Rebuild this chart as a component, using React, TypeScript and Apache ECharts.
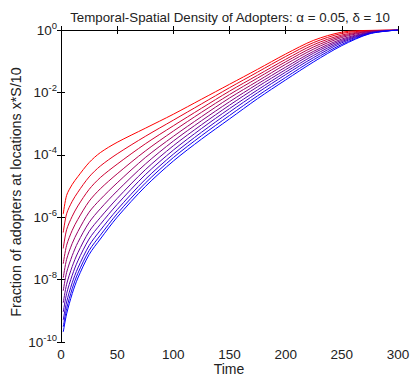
import React, { useEffect, useRef } from "react";
import * as echarts from "echarts";

// Time samples
const times = [2, 5, 10, 15, 25, 35, 50, 75, 100, 125, 150, 175, 200, 225, 250, 275, 300];

// log10 of fraction of adopters at locations x*S/10 (x = 0 .. 10)
const loc0 = [-5.9, -5.3, -4.95, -4.7, -4.25, -3.93, -3.6, -3.15, -2.7, -2.22, -1.74, -1.26, -0.77, -0.33, -0.07, -0.01, 0];
const loc1 = [-6.49, -5.89, -5.49, -5.2, -4.71, -4.36, -3.97, -3.41, -2.89, -2.37, -1.85, -1.35, -0.85, -0.4, -0.11, -0.02, 0];
const loc2 = [-7.0, -6.4, -5.97, -5.64, -5.11, -4.73, -4.3, -3.65, -3.07, -2.51, -1.96, -1.45, -0.94, -0.47, -0.16, -0.03, 0];
const loc3 = [-7.49, -6.9, -6.42, -6.07, -5.49, -5.09, -4.61, -3.88, -3.24, -2.64, -2.07, -1.54, -1.02, -0.54, -0.2, -0.04, 0];
const loc4 = [-7.94, -7.35, -6.84, -6.46, -5.84, -5.43, -4.9, -4.09, -3.41, -2.78, -2.18, -1.64, -1.1, -0.61, -0.24, -0.05, 0];
const loc5 = [-8.36, -7.77, -7.23, -6.81, -6.17, -5.73, -5.16, -4.3, -3.56, -2.91, -2.3, -1.73, -1.19, -0.68, -0.29, -0.07, 0];
const loc6 = [-8.74, -8.15, -7.58, -7.14, -6.46, -6.01, -5.4, -4.48, -3.71, -3.04, -2.41, -1.82, -1.27, -0.74, -0.33, -0.08, 0];
const loc7 = [-9.04, -8.45, -7.86, -7.4, -6.7, -6.23, -5.59, -4.64, -3.85, -3.16, -2.52, -1.92, -1.35, -0.81, -0.37, -0.09, 0];
const loc8 = [-9.3, -8.72, -8.1, -7.63, -6.91, -6.42, -5.76, -4.79, -3.98, -3.28, -2.63, -2.01, -1.43, -0.88, -0.41, -0.1, 0];
const loc9 = [-9.51, -8.93, -8.29, -7.8, -7.07, -6.58, -5.89, -4.91, -4.09, -3.39, -2.74, -2.11, -1.52, -0.95, -0.46, -0.11, 0];
const loc10 = [-9.68, -9.1, -8.45, -7.95, -7.2, -6.7, -6.0, -5.02, -4.2, -3.5, -2.85, -2.2, -1.6, -1.02, -0.5, -0.12, 0];

const locations = [loc0, loc1, loc2, loc3, loc4, loc5, loc6, loc7, loc8, loc9, loc10];
const locationNames = ["0", "S/10", "2S/10", "3S/10", "4S/10", "5S/10", "6S/10", "7S/10", "8S/10", "9S/10", "S"];

// x-axis ticks and y-axis decades (exponents)
const xTicks = { min: 0, max: 300, step: 50 };
const yDecades = { min: -10, max: 0, step: 2 };

const colors = [
  "#ff0000", "#e6001a", "#cc0033", "#b3004d", "#990066", "#800080",
  "#660099", "#4d00b3", "#3300cc", "#1a00e6", "#0000ff",
];

const FONT = "'Liberation Sans', Arial, Helvetica, sans-serif";
const TXT = "#222";

export default function App() {
  const ref = useRef<HTMLDivElement>(null);
  useEffect(() => {
    if (!ref.current) return;
    const chart = echarts.init(ref.current, undefined, { renderer: "svg" });
    const axisLine = { show: true, lineStyle: { color: "#000", width: 1 } };
    const tick = { show: true, inside: true, length: 4, lineStyle: { color: "#000", width: 1 } };
    const series = locations.map((loc, k) => ({
      type: "line",
      name: locationNames[k],
      data: times.map((t, i) => [t, loc[i]]),
      showSymbol: false,
      smooth: 0.3,
      clip: true,
      lineStyle: { color: colors[k], width: 1 },
      itemStyle: { color: colors[k] },
      z: 2,
    }));
    chart.setOption({
      animation: false,
      backgroundColor: "#fff",
      textStyle: { fontFamily: FONT },
      title: {
        text: "Temporal-Spatial Density of Adopters: α = 0.05, δ = 10",
        left: 225,
        top: 6,
        textAlign: "center",
        textStyle: { fontSize: 13.3, fontWeight: "normal", color: TXT, fontFamily: FONT },
      },
      graphic: [
        {
          type: "text",
          x: 16,
          y: 192,
          rotation: Math.PI / 2,
          style: {
            text: "Fraction of adopters at locations x*S/10",
            fontSize: 14.3,
            fontFamily: FONT,
            fill: TXT,
            align: "center",
            verticalAlign: "middle",
          },
        },
        {
          type: "text",
          x: 229,
          y: 369,
          style: {
            text: "Time",
            fontSize: 14,
            fontFamily: FONT,
            fill: TXT,
            align: "center",
            verticalAlign: "middle",
          },
        },
      ],
      grid: { left: 61, right: 12, top: 30, bottom: 34, containLabel: false, outerBoundsMode: "none" },
      xAxis: [
        {
          type: "value",
          position: "bottom",
          min: xTicks.min,
          max: xTicks.max,
          interval: xTicks.step,
          axisLine,
          axisTick: tick,
          splitLine: { show: false },
          axisLabel: { fontSize: 13.5, color: TXT, margin: 5, fontFamily: FONT },
        },
        {
          type: "value",
          position: "top",
          min: xTicks.min,
          max: xTicks.max,
          interval: xTicks.step,
          axisLine,
          axisTick: tick,
          splitLine: { show: false },
          axisLabel: { show: false },
        },
      ],
      yAxis: [
        {
          type: "value",
          position: "left",
          min: yDecades.min,
          max: yDecades.max,
          interval: yDecades.step,
          axisLine,
          axisTick: tick,
          splitLine: { show: false },
          axisLabel: {
            margin: 4,
            color: TXT,
            formatter: (v: number) => `{b|10}{s|${v}}`,
            rich: {
              b: { fontSize: 13.5, lineHeight: 20, color: TXT, fontFamily: FONT },
              s: { fontSize: 9.5, lineHeight: 10, verticalAlign: "top", color: TXT, fontFamily: FONT },
            },
          },
        },
        {
          type: "value",
          position: "right",
          min: yDecades.min,
          max: yDecades.max,
          interval: yDecades.step,
          axisLine,
          axisTick: tick,
          splitLine: { show: false },
          axisLabel: { show: false },
        },
      ],
      series,
    });
    return () => chart.dispose();
  }, []);
  return (
    <div
      ref={ref}
      style={{ position: "fixed", left: 0, top: 0, width: 410, height: 376, background: "#fff" }}
    />
  );
}
